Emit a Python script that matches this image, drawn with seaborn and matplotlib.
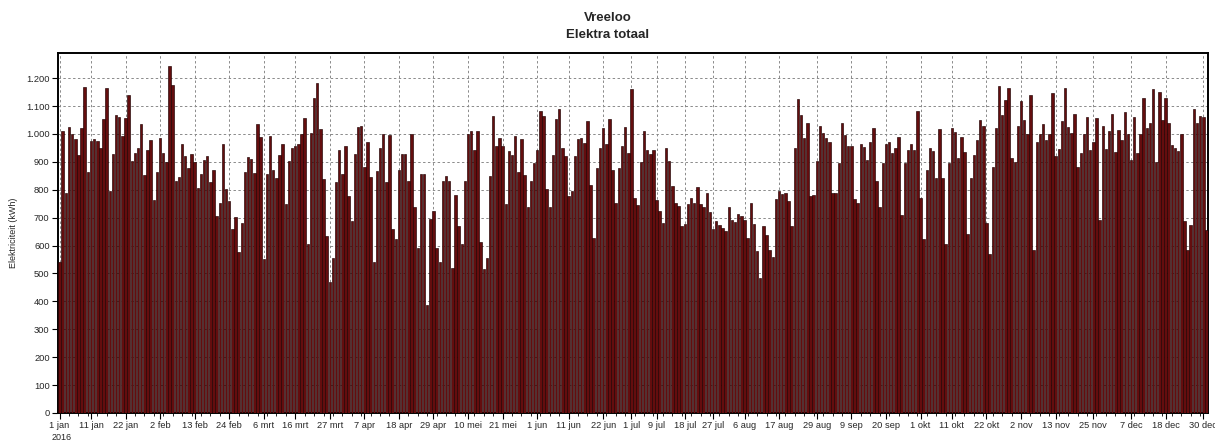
import matplotlib
matplotlib.use("Agg")
import matplotlib.pyplot as plt
import seaborn as sns
import pandas as pd
import numpy as np

# ---- data (kWh per day, 2016) ----
jan = [540, 1012, 788, 1025, 998, 982, 925, 1022, 1168, 863, 975, 982, 975, 948, 1055, 1164,
       794, 927, 1069, 1061, 993, 1058, 1138, 903, 930, 948, 1034, 853, 942, 978, 764]
feb = [863, 985, 930, 901, 1245, 1176, 832, 844, 965, 920, 877, 929, 898, 808, 858, 907, 920,
       828, 871, 706, 752, 965, 801, 761, 658, 701, 576, 681, 865]
mrt = [919, 910, 859, 1037, 990, 551, 858, 992, 870, 842, 925, 965, 749, 903, 951, 958, 965,
       998, 1058, 607, 1002, 1129, 1183, 1017, 839, 634, 471, 554, 827, 941, 856]
apr = [957, 776, 687, 927, 1026, 1029, 880, 972, 844, 542, 868, 948, 998, 827, 996, 658, 622,
       871, 927, 929, 830, 998, 737, 590, 858, 856, 388, 694, 723, 592]
mei = [542, 830, 849, 830, 521, 782, 671, 604, 830, 998, 1012, 944, 1012, 614, 516, 557, 851,
       1065, 958, 986, 958, 749, 939, 925, 992, 865, 982, 853, 737, 830, 897]
jun = [944, 1081, 1065, 801, 737, 925, 1055, 1088, 951, 920, 777, 794, 920, 982, 984, 966,
       1046, 818, 626, 877, 948, 1020, 965, 1053, 870, 752, 877, 958, 1026, 930]
jul = [1160, 770, 744, 901, 1010, 941, 927, 941, 763, 725, 681, 951, 903, 815, 753, 741, 671,
       678, 749, 770, 751, 811, 749, 737, 787, 720, 658, 687, 675, 664, 652]
aug = [737, 693, 685, 713, 705, 690, 628, 752, 678, 580, 483, 671, 637, 585, 559, 768, 794,
       785, 788, 758, 671, 951, 1124, 1067, 986, 1039, 776, 782, 903, 1029, 1002]
sep = [984, 972, 788, 788, 897, 1039, 996, 958, 958, 768, 752, 965, 954, 907, 970, 1022, 832,
       737, 897, 965, 972, 930, 948, 989, 709, 897, 941, 965, 944, 1081]
okt = [770, 623, 870, 951, 939, 842, 1017, 842, 607, 897, 1022, 1008, 913, 989, 934, 642, 842,
       925, 978, 1049, 1029, 681, 569, 883, 1022, 1172, 1067, 1120, 1164, 915, 898]
nov = [1029, 1117, 1049, 998, 1141, 583, 970, 998, 1037, 978, 998, 1145, 922, 946, 1046, 1164,
       1026, 1002, 1073, 883, 930, 998, 1060, 942, 972, 1058, 693, 1030, 945, 1010]
dec = [1070, 935, 1015, 980, 1080, 1000, 905, 1060, 930, 1000, 1130, 1020, 1040, 1160, 900,
       1150, 1050, 1130, 1040, 960, 950, 940, 1000, 687, 584, 673, 1090, 1040, 1065, 1060, 655]

tick_labels = ["1 jan", "11 jan", "22 jan", "2 feb", "13 feb", "24 feb", "6 mrt", "16 mrt",
               "27 mrt", "7 apr", "18 apr", "29 apr", "10 mei", "21 mei", "1 jun", "11 jun",
               "22 jun", "1 jul", "9 jul", "18 jul", "27 jul", "6 aug", "17 aug", "29 aug",
               "9 sep", "20 sep", "1 okt", "11 okt", "22 okt", "2 nov", "13 nov", "25 nov",
               "7 dec", "18 dec", "30 dec"]
y_ticks = list(range(0, 1300, 100))

values = jan + feb + mrt + apr + mei + jun + jul + aug + sep + okt + nov + dec
dates = pd.date_range("2016-01-01", periods=len(values), freq="D")
df = pd.DataFrame({"dag": np.arange(len(values)), "kwh": values})

month_nr = {"jan": 1, "feb": 2, "mrt": 3, "apr": 4, "mei": 5, "jun": 6, "jul": 7,
            "aug": 8, "sep": 9, "okt": 10, "nov": 11, "dec": 12}
tick_pos = []
for lab in tick_labels:
    d, m = lab.split()
    ts = pd.Timestamp(year=2016, month=month_nr[m], day=int(d))
    tick_pos.append((ts - dates[0]).days)

# ---- figure ----
sns.set_theme(style="white")
plt.rcParams["font.family"] = ["Liberation Sans", "DejaVu Sans"]

fig = plt.figure(figsize=(12.15, 4.43), dpi=100)
ax = fig.add_axes([58 / 1215, 1 - 413 / 443, 1150 / 1215, 360 / 443])

sns.barplot(data=df, x="dag", y="kwh", color="#640d0e", saturation=1, width=0.78,
            edgecolor="#1e0000", linewidth=0.45, ax=ax, native_scale=True, zorder=3)

ax.set_xlim(-0.5, len(values) - 0.5)
ax.set_ylim(0, 1290)
ax.set_xticks(tick_pos)
ax.set_xticklabels(tick_labels, fontsize=6.7)
ax.set_yticks(y_ticks)
ax.set_yticklabels([f"{v:,}".replace(",", ".") for v in y_ticks], fontsize=6.7)
ax.xaxis.set_minor_locator(matplotlib.ticker.MultipleLocator(3))
ax.tick_params(axis="x", which="major", length=4, width=0.8, color="black", pad=2, bottom=True)
ax.tick_params(axis="x", which="minor", length=2, width=0.6, color="black", bottom=True)
ax.tick_params(axis="y", which="major", length=4, width=0.8, color="black", pad=2, left=True)

ax.grid(True, which="major", axis="both", color="#8a8a8a", linestyle=(0, (2.5, 2.5)),
        linewidth=0.7, zorder=0)
ax.set_axisbelow(True)
for s in ax.spines.values():
    s.set_visible(True)
    s.set_color("black")
    s.set_linewidth(1.4)

ax.set_xlabel("")
ax.set_ylabel("Elektriciteit (kWh)", fontsize=6.5, labelpad=6)

fig.text(0.5, 1 - 18 / 443, "Vreeloo", ha="center", va="center", fontsize=9.5, fontweight="bold")
fig.text(0.5, 1 - 35 / 443, "Elektra totaal", ha="center", va="center", fontsize=9.5,
         fontweight="bold")
fig.text(52 / 1215, 1 - 437 / 443, "2016", ha="left", va="center", fontsize=6.5)

fig.savefig("out.png", dpi=100)
